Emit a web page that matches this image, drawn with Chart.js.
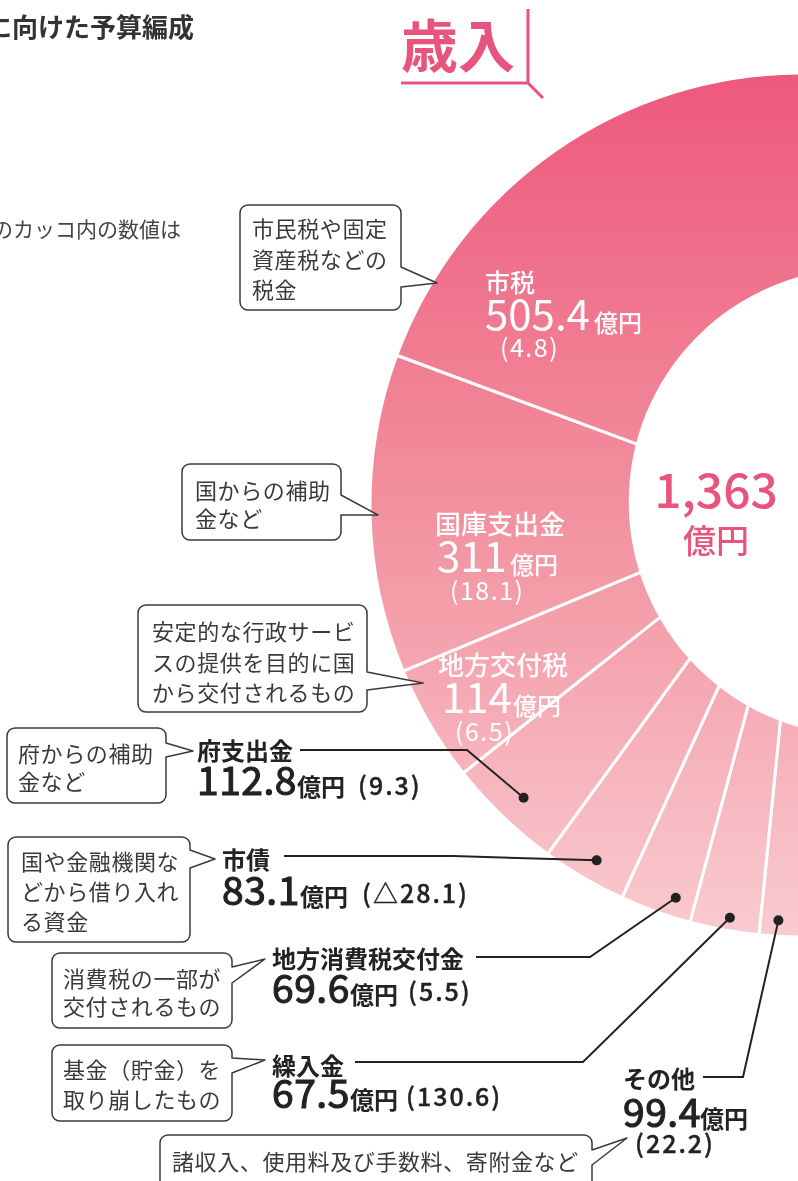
<!DOCTYPE html>
<html><head><meta charset="utf-8">
<script src="https://cdn.jsdelivr.net/npm/chart.js@4.4.1/dist/chart.umd.min.js"></script>
<style>
html,body{margin:0;padding:0;background:#fff;overflow:hidden}
#wrap{position:relative;width:798px;height:1181px;overflow:hidden;background:#fff}
#c{position:absolute;left:0;top:0}
#ov{position:absolute;left:0;top:0}
text{font-family:'Noto Sans CJK JP','Noto Sans',sans-serif}
</style></head><body>
<div id="wrap"><canvas id="c" width="798" height="1181"></canvas>
<svg id="ov" width="798" height="1181" xmlns="http://www.w3.org/2000/svg"></svg></div>
<script>
// ---------- data ----------
const categories = ['市税','国庫支出金','地方交付税','府支出金','市債','地方消費税交付金','繰入金','その他'];
const amounts = [505.4, 311, 114, 112.8, 83.1, 69.6, 67.5, 99.4];
const changes = [4.8, 18.1, 6.5, 9.3, -28.1, 5.5, 130.6, 22.2];
const descriptions = [
  ['市民税や固定','資産税などの','税金'],
  ['国からの補助','金など'],
  ['安定的な行政サービ','スの提供を目的に国','から交付されるもの'],
  ['府からの補助','金など'],
  ['国や金融機関な','どから借り入れ','る資金'],
  ['消費税の一部が','交付されるもの'],
  ['基金（貯金）を','取り崩したもの'],
  ['諸収入、使用料及び手数料、寄附金など']
];
const unitLabel = '億円';
const headingText = 'に向けた予算編成';
const noteText = 'のカッコ内の数値は';
const sideTitle = '歳入';

const fmtAmount = v => String(v);
const fmtChange = v => '(' + (v < 0 ? '△' + Math.abs(v) : String(v)) + ')';

// ---------- layout (annotation positions only) ----------
const CX = 802, CY = 505, R = 432;
const inside = {
  0: {name:[485,281,25], num:[485,330], unitX:594, paren:[500,357]},
  1: {name:[435,522,26], num:[437,572], unitX:510, paren:[450,600]},
  2: {name:[438,663,26], num:[442,713], unitX:513, paren:[455,741]}
};
const outside = {
  3: {name:[197,749], num:[197,795], unitX:297, paren:[358,795], line:[[300,750],[467,750]], t:0.48, rr:0.935},
  4: {name:[222,858], num:[222,905], unitX:300, paren:[362,903], line:[[284,856],[453,856]], t:0.47, rr:0.95},
  5: {name:[272,957], num:[272,1003], unitX:350, paren:[408,1001], line:[[476,957],[590,957]], t:0.29, rr:0.955},
  6: {name:[272,1064], num:[272,1108], unitX:350, paren:[406,1106], line:[[355,1062],[583,1062]], t:0.45, rr:0.97},
  7: {name:[623,1077], num:[623,1127], unitX:700, paren:[635,1153], line:[[703,1077],[743,1077]], t:0.82, rr:0.963}
};
const boxes = [
  {x:240,y:205,w:161,h:105,ty:[267,287],tip:[437,283],tx:252,cy:[227,258,288]},
  {x:182,y:464,w:159,h:76,ty:[495,515],tip:[378,515],tx:195,cy:[489,517]},
  {x:138,y:605,w:229,h:107,ty:[672,690],tip:[423,683],tx:152,cy:[630,661,691]},
  {x:7,y:728,w:159,h:75,ty:[743,757],tip:[193,751],tx:18,cy:[752,780]},
  {x:8,y:837,w:182,h:105,ty:[850,868],tip:[215,859],tx:21,cy:[860,890,920]},
  {x:52,y:953,w:180,h:75,ty:[967,983],tip:[265,959],tx:63,cy:[977,1005]},
  {x:52,y:1045,w:180,h:76,ty:[1058,1073],tip:[265,1060],tx:63,cy:[1068,1098]},
  {x:160,y:1135,w:432,h:62,ty:[1150,1165],tip:[627,1138],tx:172,cy:[1160]}
];

// ---------- chart ----------
const canvas = document.getElementById('c');
const ctx2d = canvas.getContext('2d');
const grad = ctx2d.createLinearGradient(0, CY - R, 0, CY + R);
grad.addColorStop(0, '#ED587C');
grad.addColorStop(0.5, '#F2909E');
grad.addColorStop(1, '#F9CBD0');

// drawn clockwise from the bottom, so reverse the category order
const order = categories.map((_, i) => i).reverse();

const holePlugin = {
  id: 'hole',
  afterDatasetsDraw(chart) {
    const a = chart.getDatasetMeta(0).data[0];
    if (!a) return;
    const c = chart.ctx;
    const r = a.outerRadius;
    c.save();
    c.beginPath();
    c.arc(a.x + 0.141 * r, a.y - 0.007 * r, 0.542 * r, 0, Math.PI * 2);
    c.fillStyle = '#ffffff';
    c.fill();
    c.restore();
  }
};

const chart = new Chart(canvas, {
  type: 'doughnut',
  data: {
    labels: order.map(i => categories[i]),
    datasets: [{
      data: order.map(i => amounts[i]),
      backgroundColor: grad,
      borderColor: '#ffffff',
      borderWidth: 3,
      clip: false
    }]
  },
  options: {
    responsive: false,
    animation: false,
    events: [],
    rotation: 172,
    circumference: 188,
    cutout: '30%',
    radius: R,
    layout: { padding: { left: 434, right: 0, top: 0, bottom: 171 } },
    plugins: { legend: { display: false }, tooltip: { enabled: false } }
  },
  plugins: [holePlugin]
});

// put the ring centre where the reference has it
(function fix() {
  const a = chart.getDatasetMeta(0).data[0];
  const dx = CX - a.x, dy = CY - a.y;
  if (Math.abs(dx) > 0.5 || Math.abs(dy) > 0.5) {
    const p = chart.config.options.layout.padding;
    chart.config.options.layout.padding = {
      left: p.left + Math.max(0, 2 * dx), right: p.right + Math.max(0, -2 * dx),
      top: p.top + Math.max(0, 2 * dy), bottom: p.bottom + Math.max(0, -2 * dy)
    };
    chart.update();
  }
})();

// ---------- overlay ----------
const NS = 'http://www.w3.org/2000/svg';
const svg = document.getElementById('ov');
function el(tag, attrs, text) {
  const e = document.createElementNS(NS, tag);
  for (const k in attrs) e.setAttribute(k, attrs[k]);
  if (text != null) e.textContent = text;
  svg.appendChild(e);
  return e;
}
const PINK = '#E8557C', DARK = '#222222', GREY = '#3a3a3a';

// heading fragments
el('text', {x:194, y:25, 'text-anchor':'end', 'dominant-baseline':'central', 'font-size':26, 'font-weight':700, fill:'#333'}, headingText);
el('text', {x:181, y:228, 'text-anchor':'end', 'dominant-baseline':'central', 'font-size':21, fill:'#444'}, noteText);

// side title
el('text', {x:401, y:42, 'dominant-baseline':'central', 'font-size':57, 'font-weight':700, fill:PINK}, sideTitle);
el('path', {d:'M401 83 H528 V9 M528 83 L543 98', stroke:PINK, 'stroke-width':3, fill:'none'});

// callout boxes
function calloutPath(b) {
  const r = 8, x = b.x, y = b.y, w = b.w, h = b.h;
  return `M${x+r} ${y} H${x+w-r} A${r} ${r} 0 0 1 ${x+w} ${y+r} V${b.ty[0]} L${b.tip[0]} ${b.tip[1]} L${x+w} ${b.ty[1]} V${y+h-r} A${r} ${r} 0 0 1 ${x+w-r} ${y+h} H${x+r} A${r} ${r} 0 0 1 ${x} ${y+h-r} V${y+r} A${r} ${r} 0 0 1 ${x+r} ${y} Z`;
}
boxes.forEach((b, i) => {
  el('path', {d:calloutPath(b), fill:'#fff', stroke:GREY, 'stroke-width':1.5, 'stroke-linejoin':'round'});
  descriptions[i].forEach((line, k) => {
    el('text', {x:b.tx, y:b.cy[k], 'dominant-baseline':'central', 'font-size':22, 'letter-spacing':0.6, fill:GREY}, line);
  });
});

// leader lines anchored to the arcs
const arcs = chart.getDatasetMeta(0).data;
Object.keys(outside).forEach(k => {
  const i = +k, o = outside[i];
  const arc = arcs[order.indexOf(i)];
  const ang = arc.startAngle + o.t * (arc.endAngle - arc.startAngle);
  const px = arc.x + Math.cos(ang) * arc.outerRadius * o.rr;
  const py = arc.y + Math.sin(ang) * arc.outerRadius * o.rr;
  const pts = o.line.concat([[px, py]]);
  el('polyline', {points: pts.map(p => p.join(',')).join(' '), fill:'none', stroke:DARK, 'stroke-width':2});
  el('circle', {cx:px, cy:py, r:5, fill:DARK});
});

// inside (white) labels
Object.keys(inside).forEach(k => {
  const i = +k, o = inside[i];
  el('text', {x:o.name[0], y:o.name[1], 'dominant-baseline':'central', 'font-size':o.name[2], 'font-weight':500, fill:'#fff'}, categories[i]);
  el('text', {x:o.num[0], y:o.num[1], 'font-size':42, fill:'#fff'}, fmtAmount(amounts[i]));
  el('text', {x:o.unitX, y:o.num[1] + 2, 'font-size':24, 'font-weight':500, fill:'#fff'}, unitLabel);
  el('text', {x:o.paren[0], y:o.paren[1], 'font-size':25, 'letter-spacing':1.5, fill:'#fff'}, fmtChange(changes[i]));
});

// outside (dark) labels
Object.keys(outside).forEach(k => {
  const i = +k, o = outside[i];
  el('text', {x:o.name[0], y:o.name[1], 'dominant-baseline':'central', 'font-size':24, 'font-weight':700, fill:DARK}, categories[i]);
  el('text', {x:o.num[0], y:o.num[1], 'font-size':39, 'font-weight':400, fill:DARK, stroke:DARK, 'stroke-width':1.1, 'letter-spacing':0.5}, fmtAmount(amounts[i]));
  el('text', {x:o.unitX, y:o.num[1] + 1, 'font-size':24, 'font-weight':700, fill:DARK}, unitLabel);
  el('text', {x:o.paren[0], y:o.paren[1], 'font-size':25, 'font-weight':500, 'letter-spacing':2, fill:DARK, stroke:DARK, 'stroke-width':0.4}, fmtChange(changes[i]));
});

// centre total
const total = Math.round(amounts.reduce((s, v) => s + v, 0));
el('text', {x:716, y:508, 'text-anchor':'middle', 'font-size':48, 'font-weight':500, fill:PINK}, total.toLocaleString('en-US'));
el('text', {x:716, y:539, 'text-anchor':'middle', 'dominant-baseline':'central', 'font-size':33, 'font-weight':500, fill:PINK}, unitLabel);
</script>
</body></html>
